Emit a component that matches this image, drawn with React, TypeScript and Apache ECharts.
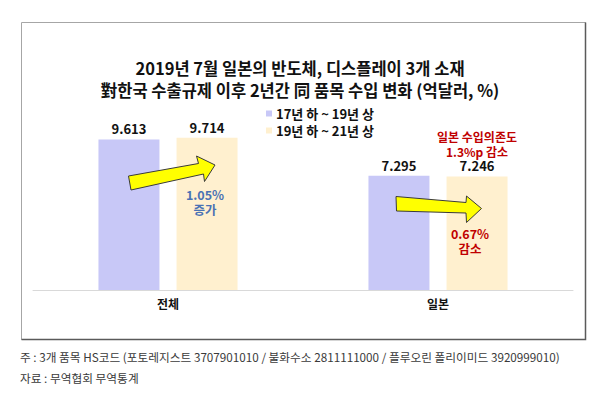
import React, { useEffect, useRef } from "react";
import * as echarts from "echarts";

const categories = ["전체", "일본"];
const seriesNames = ["17년 하 ~ 19년 상", "19년 하 ~ 21년 상"];
const beforeValues = [9.613, 7.295];
const afterValues = [9.714, 7.246];
const titleLines = [
  "2019년 7월 일본의 반도체, 디스플레이 3개 소재",
  "對한국 수출규제 이후 2년간 同 품목 수입 변화 (억달러, %)",
];
const noteLines = [
  "주 : 3개 품목 HS코드 (포토레지스트 3707901010 / 불화수소 2811111000 / 플루오린 폴리이미드 3920999010)",
  "자료 : 무역협회 무역통계",
];
const totalChange = ["1.05%", "증가"];
const japanChange = ["0.67%", "감소"];
const japanDependency = ["일본 수입의존도", "1.3%p 감소"];

const FONT = '"Noto Sans CJK KR", "Noto Sans", sans-serif';

export default function App() {
  const ref = useRef<HTMLDivElement>(null);
  useEffect(() => {
    document.body.style.margin = "0";
    const chart = echarts.init(ref.current!, null, { renderer: "svg" });
    const arrowStyle = { fill: "#ffff00", stroke: "#3a3a3a", lineWidth: 1 };
    const txt = (lines: string[], x: number, y: number, fill: string, size: number, lh: number) => ({
      type: "text",
      style: {
        text: lines.join("\n"),
        x,
        y,
        fill,
        align: "center",
        verticalAlign: "middle",
        lineHeight: lh,
        font: `bold ${size}px ${FONT}`,
      },
      z: 10,
    });
    chart.setOption({
      animation: false,
      backgroundColor: "#ffffff",
      title: {
        text: titleLines.join("\n"),
        left: "center",
        top: 52,
        textStyle: { fontFamily: FONT, fontWeight: "bold", fontSize: 16.5, lineHeight: 22, color: "#111" },
      },
      legend: {
        orient: "vertical",
        left: 261,
        top: 102,
        itemWidth: 6,
        itemHeight: 6,
        itemGap: 4,
        icon: "rect",
        textStyle: { fontFamily: FONT, fontWeight: "bold", fontSize: 13, lineHeight: 13, color: "#111", padding: [0, 0, 0, -1] },
      },
      grid: { left: 33, width: 540, top: 102, height: 188 },
      xAxis: {
        type: "category",
        data: categories,
        axisLine: { lineStyle: { color: "#d9d9d9" } },
        axisTick: { show: false },
        axisLabel: { fontFamily: FONT, fontWeight: "bold", fontSize: 12, color: "#111", margin: 7 },
      },
      yAxis: { type: "value", min: 0, max: 12, show: false, splitLine: { show: false } },
      series: [
        {
          name: seriesNames[0],
          type: "bar",
          data: beforeValues,
          barWidth: 61,
          barGap: "28%",
          itemStyle: { color: "#c8c8f7" },
          label: {
            show: true,
            position: "top",
            distance: 4,
            formatter: (p: any) => p.value.toFixed(3),
            fontFamily: FONT,
            fontWeight: "bold",
            fontSize: 13,
            color: "#111",
          },
        },
        {
          name: seriesNames[1],
          type: "bar",
          data: afterValues,
          barWidth: 61,
          itemStyle: { color: "#fff0cf" },
          label: {
            show: true,
            position: "top",
            distance: 4,
            formatter: (p: any) => p.value.toFixed(3),
            fontFamily: FONT,
            fontWeight: "bold",
            fontSize: 13,
            color: "#111",
          },
        },
      ],
      graphic: [
        {
          type: "rect",
          shape: { x: 21.5, y: 22.5, width: 564, height: 317 },
          style: { fill: "none", stroke: "#a6a6a6", lineWidth: 1 },
          silent: true,
        },
        {
          type: "polyline",
          shape: { points: [[585.5, 22.5], [585.5, 339.5], [21.5, 339.5]] },
          style: { stroke: "#5a5a5a", lineWidth: 1.5, fill: "none" },
          silent: true,
        },
        {
          type: "polygon",
          shape: {
            points: [
              [128.5, 176],
              [131, 190],
              [203.5, 174],
              [204.5, 181.5],
              [215, 165],
              [196.5, 156],
              [198.5, 163.5],
            ],
          },
          style: arrowStyle,
          z: 5,
        },
        {
          type: "polygon",
          shape: {
            points: [
              [396, 196.5],
              [396.5, 211],
              [466, 213],
              [466.5, 222.5],
              [481.5, 208.5],
              [466.5, 196],
              [466, 202.5],
            ],
          },
          style: arrowStyle,
          z: 5,
        },
        txt(totalChange, 205, 202, "#4a72b4", 12.5, 15),
        txt(japanChange, 470, 241, "#c00000", 12.5, 15),
        txt(japanDependency, 477, 144, "#c00000", 12, 15),
        {
          type: "text",
          style: { text: noteLines[0], x: 20, y: 356, fill: "#3a3a3a", align: "left", verticalAlign: "middle", font: `normal 11.7px ${FONT}` },
        },
        {
          type: "text",
          style: { text: noteLines[1], x: 20, y: 377, fill: "#3a3a3a", align: "left", verticalAlign: "middle", font: `normal 11.7px ${FONT}` },
        },
      ],
    });
    return () => chart.dispose();
  }, []);
  return <div ref={ref} style={{ position: "absolute", left: 0, top: 0, width: 600, height: 396 }} />;
}
